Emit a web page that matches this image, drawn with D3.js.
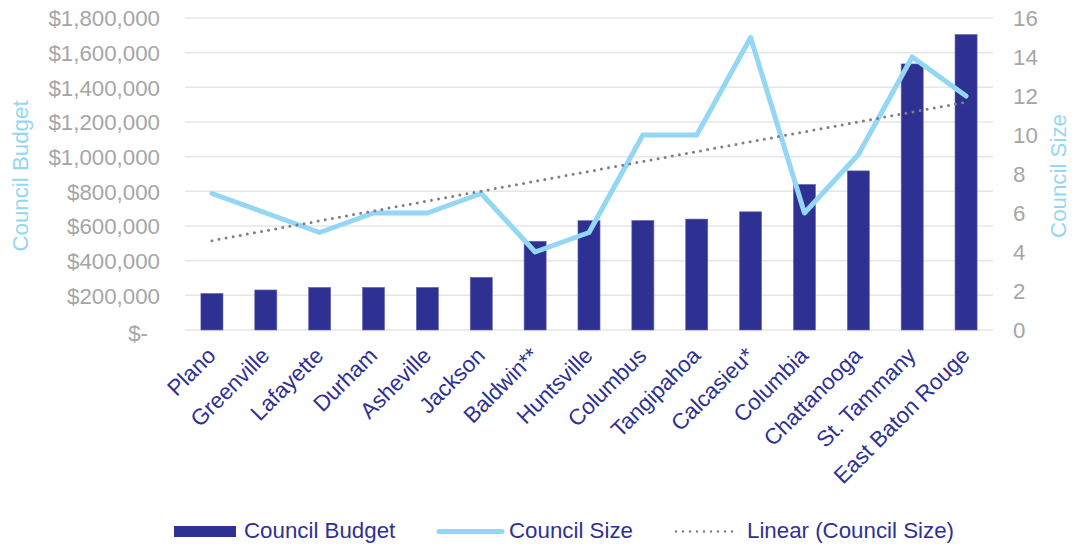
<!DOCTYPE html>
<html>
<head>
<meta charset="utf-8">
<script src="https://cdn.jsdelivr.net/npm/d3@7"></script>
<style>
  html, body { margin: 0; padding: 0; background: #fff; }
  svg { display: block; font-family: "Liberation Sans", Arial, sans-serif; }
</style>
</head>
<body>
<svg id="chart" width="1075" height="544"></svg>
<script>
// Council budgets and council sizes by jurisdiction
const categories = ["Plano", "Greenville", "Lafayette", "Durham", "Asheville", "Jackson", "Baldwin**",
  "Huntsville", "Columbus", "Tangipahoa", "Calcasieu*", "Columbia", "Chattanooga", "St. Tammany", "East Baton Rouge"];
const councilBudget = [211000, 231000, 246000, 246000, 246000, 304000, 512000,
  631000, 632000, 640000, 682000, 840000, 918000, 1535000, 1705000];
const councilSize = [7, 6, 5, 6, 6, 7, 4, 5, 10, 10, 15, 6, 9, 14, 12];
const budgetTicks = [0, 200000, 400000, 600000, 800000, 1000000, 1200000, 1400000, 1600000, 1800000];
const sizeTicks = [0, 2, 4, 6, 8, 10, 12, 14, 16];
const legendLabels = ["Council Budget", "Council Size", "Linear (Council Size)"];

const barColor = "#2E3192";
const lineColor = "#94D7F4";
const trendColor = "#7F7F7F";
const tickColor = "#A6A6A6";
const gridColor = "#E6E6E6";
const fontSize = "22.3px";

const svg = d3.select("#chart");
const plot = { left: 185, right: 993, top: 18, bottom: 330 };

const x = d3.scaleBand().domain(categories)
  .range([plot.left, plot.right]).paddingInner(0.59).paddingOuter(0.295);
const yL = d3.scaleLinear().domain([0, 1800000]).range([plot.bottom, plot.top]);
const yR = d3.scaleLinear().domain([0, 16]).range([plot.bottom, plot.top]);
const cx = c => x(c) + x.bandwidth() / 2;

// gridlines
svg.append("g").selectAll("line").data(budgetTicks).join("line")
  .attr("x1", plot.left).attr("x2", plot.right)
  .attr("y1", d => yL(d)).attr("y2", d => yL(d))
  .attr("stroke", gridColor).attr("stroke-width", 1.5);

// left axis
const fmt = d => d === 0 ? "$-" : "$" + d3.format(",")(d);
const leftAxis = svg.append("g").attr("transform", `translate(${plot.left},0)`)
  .call(d3.axisLeft(yL).tickValues(budgetTicks).tickFormat(fmt).tickSize(0).tickPadding(25));
leftAxis.select(".domain").remove();
leftAxis.selectAll("text").attr("fill", tickColor).style("font-size", fontSize)
  .attr("dy", d => d === 0 ? "0.45em" : "0.35em")
  .attr("x", d => d === 0 ? -37 : -25);

// right axis
const rightAxis = svg.append("g").attr("transform", `translate(${plot.right},0)`)
  .call(d3.axisRight(yR).tickValues(sizeTicks).tickSize(0).tickPadding(20));
rightAxis.select(".domain").remove();
rightAxis.selectAll("text").attr("fill", tickColor).style("font-size", fontSize);

// bars
svg.append("g").selectAll("rect").data(categories).join("rect")
  .attr("x", c => x(c)).attr("width", x.bandwidth())
  .attr("y", (c, i) => yL(councilBudget[i]))
  .attr("height", (c, i) => yL(0) - yL(councilBudget[i]))
  .attr("fill", barColor).attr("stroke", "#6A6CB4").attr("stroke-width", 0.6);

// council size line
const line = d3.line().x((d, i) => cx(categories[i])).y(d => yR(d));
svg.append("path").datum(councilSize).attr("d", line)
  .attr("fill", "none").attr("stroke", lineColor).attr("stroke-width", 5)
  .attr("stroke-linejoin", "round").attr("stroke-linecap", "round");

// linear trend of council size (least squares over category index)
const n = councilSize.length;
const idx = d3.range(1, n + 1);
const mx = d3.mean(idx), my = d3.mean(councilSize);
const slope = d3.sum(idx, (v, i) => (v - mx) * (councilSize[i] - my)) / d3.sum(idx, v => (v - mx) ** 2);
const icpt = my - slope * mx;
const trend = [1, n].map(v => ({ c: categories[v - 1], v: icpt + slope * v }));
svg.append("path").datum(trend)
  .attr("d", d3.line().x(d => cx(d.c)).y(d => yR(d.v)))
  .attr("fill", "none").attr("stroke", trendColor).attr("stroke-width", 3)
  .attr("stroke-linecap", "round").attr("stroke-dasharray", "0 7.2");

// category labels
svg.append("g").selectAll("text").data(categories).join("text")
  .attr("transform", c => `translate(${cx(c) + 5},${plot.bottom + 27}) rotate(-45)`)
  .attr("text-anchor", "end")
  .attr("fill", barColor).style("font-size", fontSize)
  .text(c => c);

// axis titles
svg.append("text").attr("transform", "translate(28,176) rotate(-90)")
  .attr("text-anchor", "middle").attr("fill", lineColor).style("font-size", fontSize)
  .text("Council Budget");
svg.append("text").attr("transform", "translate(1066,176) rotate(-90)")
  .attr("text-anchor", "middle").attr("fill", lineColor).style("font-size", fontSize)
  .text("Council Size");

// legend
const lg = svg.append("g").style("font-size", fontSize);
lg.append("rect").attr("x", 174).attr("y", 526).attr("width", 62).attr("height", 11).attr("fill", barColor);
lg.append("text").attr("x", 244).attr("y", 538).attr("fill", barColor).text(legendLabels[0]);
lg.append("line").attr("x1", 439).attr("x2", 502).attr("y1", 531.5).attr("y2", 531.5)
  .attr("stroke", lineColor).attr("stroke-width", 5).attr("stroke-linecap", "round");
lg.append("text").attr("x", 509).attr("y", 538).attr("fill", barColor).text(legendLabels[1]);
lg.append("line").attr("x1", 676).attr("x2", 738).attr("y1", 531.5).attr("y2", 531.5)
  .attr("stroke", trendColor).attr("stroke-width", 2.5)
  .attr("stroke-linecap", "round").attr("stroke-dasharray", "0 7");
lg.append("text").attr("x", 747).attr("y", 538).attr("fill", barColor).text(legendLabels[2]);
</script>
</body>
</html>
